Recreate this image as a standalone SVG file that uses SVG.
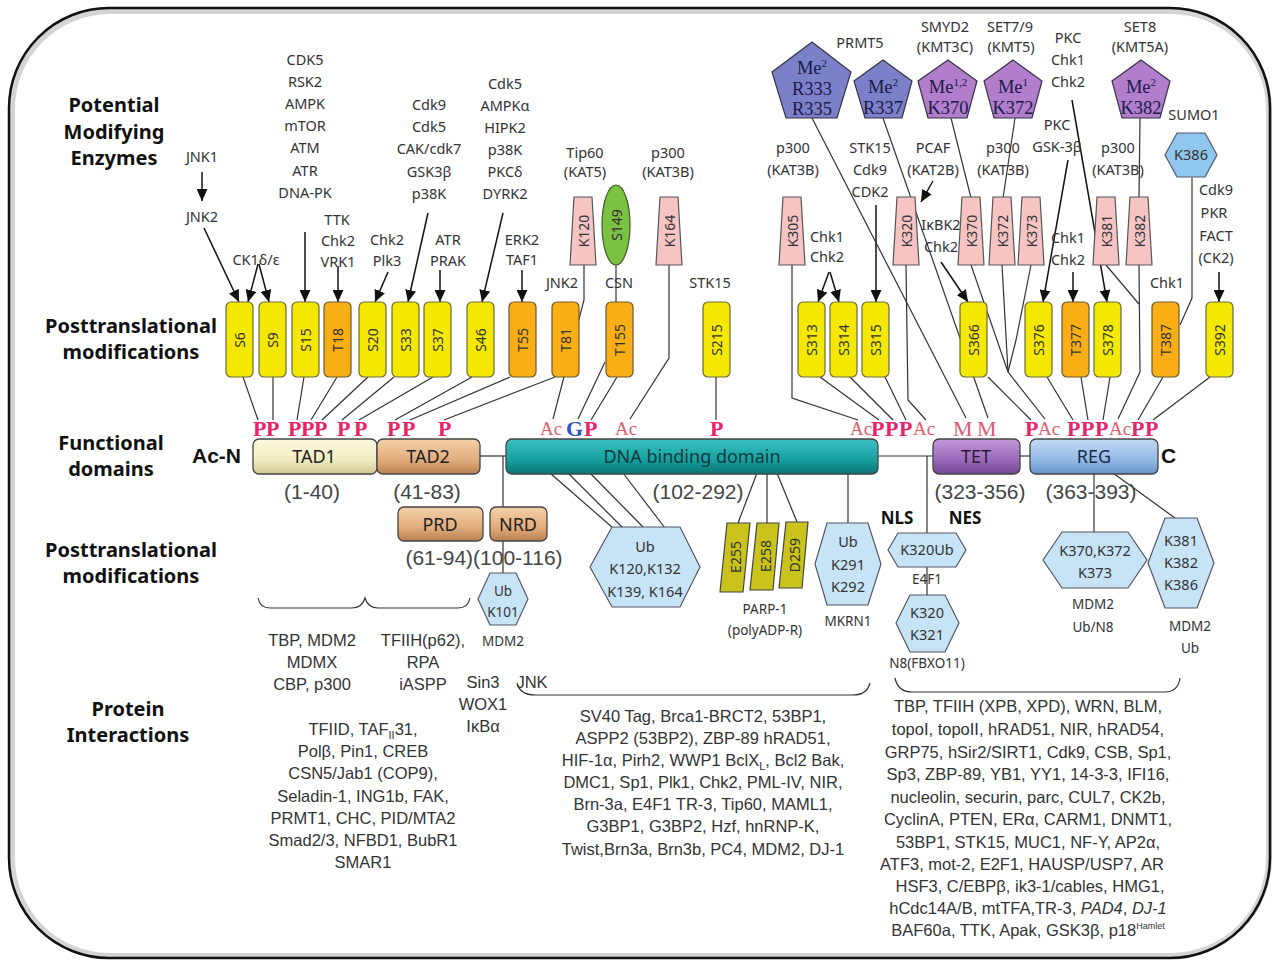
<svg xmlns="http://www.w3.org/2000/svg" width="1279" height="965" viewBox="0 0 1279 965">
<defs>
<marker id="ah" markerUnits="userSpaceOnUse" markerWidth="12" markerHeight="11" viewBox="0 0 12 11" refX="12" refY="5.5" orient="auto"><path d="M0,0 L12,5.5 L0,11 z" fill="#111"/></marker>
<linearGradient id="gTAD1" x1="0" y1="0" x2="0" y2="1"><stop offset="0" stop-color="#fbf9e0"/><stop offset="0.6" stop-color="#f1edc0"/><stop offset="1" stop-color="#cfc896"/></linearGradient>
<linearGradient id="gTAD2" x1="0" y1="0" x2="0" y2="1"><stop offset="0" stop-color="#f3cfa8"/><stop offset="0.6" stop-color="#e2ad7c"/><stop offset="1" stop-color="#b88050"/></linearGradient>
<linearGradient id="gDNA" x1="0" y1="0" x2="0" y2="1"><stop offset="0" stop-color="#3cc0c0"/><stop offset="0.6" stop-color="#16a0a0"/><stop offset="1" stop-color="#0a7474"/></linearGradient>
<linearGradient id="gTET" x1="0" y1="0" x2="0" y2="1"><stop offset="0" stop-color="#c49ad8"/><stop offset="0.6" stop-color="#9a68ba"/><stop offset="1" stop-color="#734790"/></linearGradient>
<linearGradient id="gREG" x1="0" y1="0" x2="0" y2="1"><stop offset="0" stop-color="#c2daf4"/><stop offset="0.6" stop-color="#93b9e4"/><stop offset="1" stop-color="#6690c4"/></linearGradient>
</defs>
<style>
.head{font-family:"Noto Sans",sans-serif;font-weight:bold;font-size:20px;fill:#111;text-anchor:middle}
.enz{font-family:"Noto Sans",sans-serif;font-size:14.5px;fill:#333;text-anchor:middle}
.sm{font-family:"Noto Sans",sans-serif;font-size:13.5px;fill:#333;text-anchor:middle}
.by{fill:#f4e800;stroke:#6a6a40;stroke-width:1.2}
.bo{fill:#f8ae14;stroke:#6a5a30;stroke-width:1.2}
.bt{font-family:"Noto Sans",sans-serif;font-size:14px;fill:#333;text-anchor:middle;dominant-baseline:central}
.trap{fill:#f7c4c4;stroke:#555;stroke-width:1.2}
.ln{stroke:#333;stroke-width:1.2;fill:none}
.arr{stroke:#111;stroke-width:1.5;fill:none;marker-end:url(#ah)}
.hex{fill:#c7e4f6;stroke:#556;stroke-width:1.2}
.hext{font-family:"Noto Sans",sans-serif;font-size:14.5px;fill:#333;text-anchor:middle}
.pb{fill:#7c80c8;stroke:#334;stroke-width:1.2}
.pp{fill:#b27ecc;stroke:#334;stroke-width:1.2}
.pt{font-family:"Liberation Serif",serif;font-size:18.5px;fill:#1a1a4a;text-anchor:middle}
.P{font-family:"Liberation Serif",serif;font-weight:bold;font-size:22px;fill:#e8236a}
.Ac{font-family:"Liberation Serif",serif;font-size:19px;fill:#e0606e}
.M{font-family:"Liberation Serif",serif;font-size:22px;fill:#e05a70}
.G{font-family:"Liberation Serif",serif;font-weight:bold;font-size:22px;fill:#3050c8}
.dom{stroke:#444;stroke-width:1.3}
.domt{font-family:"Noto Sans",sans-serif;font-size:18px;fill:#222;text-anchor:middle}
.rng{font-family:"Liberation Sans",sans-serif;font-size:21px;fill:#444;text-anchor:middle}
.pi{font-family:"Liberation Sans",sans-serif;font-size:16.5px;fill:#333;text-anchor:middle}
.par{fill:#c9c31c;stroke:#444;stroke-width:1.2}
.bold{font-family:"Liberation Sans",sans-serif;font-weight:bold;font-size:21px;fill:#111}
.nl{font-family:"Noto Sans",sans-serif;font-weight:bold;font-size:17px;fill:#111;text-anchor:middle}
</style>
<rect x="0" y="0" width="1279" height="965" fill="#ffffff"/>
<rect x="12" y="11" width="1257" height="945" rx="98" fill="none" stroke="#d4d4d4" stroke-width="6"/>
<rect x="9" y="8" width="1261" height="950" rx="100" fill="none" stroke="#111" stroke-width="2.5"/>

<g id="row-labels">
<text class="head" x="114" y="112">Potential</text>
<text class="head" x="114" y="139">Modifying</text>
<text class="head" x="114" y="165">Enzymes</text>
<text class="head" x="131" y="333">Posttranslational</text>
<text class="head" x="131" y="359">modifications</text>
<text class="head" x="111" y="450">Functional</text>
<text class="head" x="111" y="476">domains</text>
<text class="head" x="131" y="557">Posttranslational</text>
<text class="head" x="131" y="583">modifications</text>
<text class="head" x="128" y="716">Protein</text>
<text class="head" x="128" y="742">Interactions</text>
</g>

<g id="connectors">
<line class="arr" x1="202" y1="172" x2="202" y2="201"/>
<line class="arr" x1="204" y1="228" x2="239" y2="302"/>
<line class="arr" x1="258" y1="264" x2="248" y2="302"/>
<line class="arr" x1="259" y1="264" x2="269" y2="302"/>
<line class="arr" x1="305" y1="232" x2="305" y2="302"/>
<line class="arr" x1="338" y1="266" x2="338" y2="302"/>
<line class="arr" x1="388" y1="272" x2="375" y2="302"/>
<line class="arr" x1="428" y1="213" x2="408" y2="302"/>
<line class="arr" x1="440" y1="270" x2="440" y2="302"/>
<line class="arr" x1="503" y1="213" x2="482" y2="302"/>
<line class="arr" x1="522" y1="270" x2="522" y2="302"/>
<line class="arr" x1="829" y1="272" x2="818" y2="302"/>
<line class="arr" x1="830" y1="272" x2="839" y2="302"/>
<line class="arr" x1="876" y1="205" x2="876" y2="302"/>
<line class="arr" x1="933" y1="181" x2="921" y2="202"/>
<line class="arr" x1="941" y1="262" x2="968" y2="302"/>
<line class="arr" x1="1068" y1="160" x2="1043" y2="302"/>
<line class="arr" x1="1073" y1="272" x2="1073" y2="302"/>
<line class="arr" x1="1072" y1="100" x2="1107" y2="302"/>
<line class="arr" x1="1219" y1="272" x2="1219" y2="302"/>
<line class="ln" x1="812" y1="118" x2="966" y2="418"/>
<line class="ln" x1="883" y1="118" x2="988" y2="418"/>
<line class="ln" x1="951" y1="118" x2="971" y2="198"/>
<line class="ln" x1="1015" y1="118" x2="1003" y2="198"/>
<line class="ln" x1="1140" y1="118" x2="1139" y2="198"/>
<polyline class="ln" points="1192,178 1192,298 1180,325"/>
<polyline class="ln" points="584,265 584,300 553,419"/>
<line class="ln" x1="616" y1="265" x2="616" y2="303"/>
<line class="ln" x1="605" y1="362" x2="578" y2="419"/>
<polyline class="ln" points="669,265 669,358 630,419"/>
<polyline class="ln" points="792,265 792,398 858,420"/>
<polyline class="ln" points="906,265 908,400 926,420"/>
<polyline class="ln" points="971,265 1008,372 1045,419"/>
<line class="ln" x1="1002" y1="265" x2="1008" y2="372"/>
<polyline class="ln" points="1031,265 1016,340 1008,372"/>
<polyline class="ln" points="1106,265 1139,304"/>
<polyline class="ln" points="1139,265 1140,372 1118,419"/>
<line class="ln" x1="243" y1="377" x2="258" y2="420"/>
<line class="ln" x1="273" y1="377" x2="273" y2="420"/>
<line class="ln" x1="304" y1="377" x2="297" y2="420"/>
<line class="ln" x1="337" y1="377" x2="311" y2="420"/>
<line class="ln" x1="368" y1="377" x2="322" y2="420"/>
<line class="ln" x1="394" y1="377" x2="342" y2="420"/>
<line class="ln" x1="433" y1="377" x2="359" y2="420"/>
<line class="ln" x1="472" y1="377" x2="395" y2="420"/>
<line class="ln" x1="510" y1="377" x2="410" y2="420"/>
<line class="ln" x1="555" y1="377" x2="444" y2="420"/>
<line class="ln" x1="617" y1="377" x2="591" y2="420"/>
<line class="ln" x1="716" y1="377" x2="716" y2="420"/>
<line class="ln" x1="820" y1="377" x2="879" y2="420"/>
<line class="ln" x1="850" y1="377" x2="893" y2="420"/>
<line class="ln" x1="885" y1="377" x2="906" y2="420"/>
<line class="ln" x1="988" y1="377" x2="1031" y2="420"/>
<line class="ln" x1="1047" y1="377" x2="1073" y2="420"/>
<line class="ln" x1="1081" y1="377" x2="1088" y2="420"/>
<line class="ln" x1="1110" y1="377" x2="1103" y2="420"/>
<line class="ln" x1="1163" y1="377" x2="1138" y2="420"/>
<line class="ln" x1="1210" y1="377" x2="1153" y2="420"/>
<line class="ln" x1="479" y1="456" x2="507" y2="456" stroke-width="1.5"/>
<line class="ln" x1="878" y1="456" x2="933" y2="456" stroke-width="1.5"/>
<line class="ln" x1="1019" y1="456" x2="1030" y2="456" stroke-width="1.5"/>
<line class="ln" x1="503" y1="456" x2="503" y2="575"/>
<line class="ln" x1="927" y1="456" x2="927" y2="533"/>
<line class="ln" x1="927" y1="567" x2="927" y2="595"/>
<line class="ln" x1="848" y1="473" x2="848" y2="523"/>
<line class="ln" x1="1094" y1="473" x2="1094" y2="532"/>
<line class="ln" x1="1113" y1="473" x2="1175" y2="518"/>
<line class="ln" x1="550" y1="473" x2="613" y2="528"/>
<line class="ln" x1="568" y1="473" x2="623" y2="528"/>
<line class="ln" x1="590" y1="473" x2="644" y2="528"/>
<line class="ln" x1="623" y1="473" x2="665" y2="528"/>
<line class="ln" x1="757" y1="473" x2="738" y2="523"/>
<line class="ln" x1="767" y1="473" x2="767" y2="523"/>
<line class="ln" x1="777" y1="473" x2="797" y2="522"/>
<path class="ln" d="M258,598 Q260,608 270,608 L352,608 Q362,608 365,598 Q368,608 378,608 L458,608 Q468,608 470,598" stroke="#555" stroke-width="1.4"/>
<path class="ln" d="M517,683 Q520,695 535,695 L853,695 Q867,695 870,683" stroke="#555" stroke-width="1.4"/>
<path class="ln" d="M895,678 Q898,692 912,692 L1165,692 Q1178,692 1180,678" stroke="#555" stroke-width="1.4"/>
</g>

<g id="enzymes">
<text class="enz" x="202" y="162">JNK1</text>
<text class="enz" x="202" y="222">JNK2</text>
<text class="enz" x="256" y="265">CK1δ/ε</text>
<text class="enz" x="305" y="65">CDK5</text>
<text class="enz" x="305" y="87">RSK2</text>
<text class="enz" x="305" y="109">AMPK</text>
<text class="enz" x="305" y="131">mTOR</text>
<text class="enz" x="305" y="153">ATM</text>
<text class="enz" x="305" y="176">ATR</text>
<text class="enz" x="305" y="198">DNA-PK</text>
<text class="enz" x="337" y="225">TTK</text>
<text class="enz" x="338" y="246">Chk2</text>
<text class="enz" x="338" y="267">VRK1</text>
<text class="enz" x="387" y="245">Chk2</text>
<text class="enz" x="387" y="266">Plk3</text>
<text class="enz" x="429" y="110">Cdk9</text>
<text class="enz" x="429" y="132">Cdk5</text>
<text class="enz" x="429" y="154">CAK/cdk7</text>
<text class="enz" x="429" y="177">GSK3β</text>
<text class="enz" x="429" y="199">p38K</text>
<text class="enz" x="448" y="245">ATR</text>
<text class="enz" x="448" y="266">PRAK</text>
<text class="enz" x="505" y="89">Cdk5</text>
<text class="enz" x="505" y="111">AMPKα</text>
<text class="enz" x="505" y="133">HIPK2</text>
<text class="enz" x="505" y="155">p38K</text>
<text class="enz" x="505" y="177">PKCδ</text>
<text class="enz" x="505" y="199">DYRK2</text>
<text class="enz" x="522" y="245">ERK2</text>
<text class="enz" x="522" y="265">TAF1</text>
<text class="enz" x="562" y="288">JNK2</text>
<text class="enz" x="619" y="288">CSN</text>
<text class="enz" x="710" y="288">STK15</text>
<text class="enz" x="585" y="158">Tip60</text>
<text class="enz" x="585" y="177">(KAT5)</text>
<text class="enz" x="668" y="158">p300</text>
<text class="enz" x="668" y="177">(KAT3B)</text>
<text class="enz" x="860" y="48">PRMT5</text>
<text class="enz" x="945" y="32">SMYD2</text>
<text class="enz" x="945" y="52">(KMT3C)</text>
<text class="enz" x="1010" y="32">SET7/9</text>
<text class="enz" x="1011" y="52">(KMT5)</text>
<text class="enz" x="1068" y="43">PKC</text>
<text class="enz" x="1068" y="65">Chk1</text>
<text class="enz" x="1068" y="87">Chk2</text>
<text class="enz" x="1140" y="32">SET8</text>
<text class="enz" x="1140" y="52">(KMT5A)</text>
<text class="enz" x="1194" y="120">SUMO1</text>
<text class="enz" x="793" y="153">p300</text>
<text class="enz" x="793" y="175">(KAT3B)</text>
<text class="enz" x="870" y="153">STK15</text>
<text class="enz" x="870" y="175">Cdk9</text>
<text class="enz" x="870" y="197">CDK2</text>
<text class="enz" x="933" y="153">PCAF</text>
<text class="enz" x="933" y="175">(KAT2B)</text>
<text class="enz" x="1003" y="153">p300</text>
<text class="enz" x="1003" y="175">(KAT3B)</text>
<text class="enz" x="1057" y="130">PKC</text>
<text class="enz" x="1057" y="152">GSK-3β</text>
<text class="enz" x="1118" y="153">p300</text>
<text class="enz" x="1118" y="175">(KAT3B)</text>
<text class="enz" x="827" y="242">Chk1</text>
<text class="enz" x="827" y="262">Chk2</text>
<text class="enz" x="941" y="230">IκBK2</text>
<text class="enz" x="941" y="252">Chk2</text>
<text class="enz" x="1068" y="243">Chk1</text>
<text class="enz" x="1068" y="265">Chk2</text>
<text class="enz" x="1167" y="288">Chk1</text>
<text class="enz" x="1216" y="195">Cdk9</text>
<text class="enz" x="1214" y="218">PKR</text>
<text class="enz" x="1216" y="241">FACT</text>
<text class="enz" x="1216" y="263">(CK2)</text>
</g>

<g id="pentagons">
<g id="R333-R335"><polygon class="pb" points="812,42 851,72 837,118 786,118 772,72"/><text class="pt" x="812" y="74">Me<tspan font-size="11" dy="-7">2</tspan></text><text class="pt" x="812" y="95">R333</text><text class="pt" x="812" y="115">R335</text></g>
<g id="R337"><polygon class="pb" points="883,60 912,81 902,118 865,118 854,81"/><text class="pt" x="883" y="93">Me<tspan font-size="11" dy="-7">2</tspan></text><text class="pt" x="883" y="114">R337</text></g>
<g id="K370-me"><polygon class="pp" points="948,60 977,81 967,118 928,118 918,81"/><text class="pt" x="948" y="93">Me<tspan font-size="11" dy="-7">1,2</tspan></text><text class="pt" x="948" y="114">K370</text></g>
<g id="K372-me"><polygon class="pp" points="1013,60 1042,81 1032,118 994,118 984,81"/><text class="pt" x="1013" y="93">Me<tspan font-size="11" dy="-7">1</tspan></text><text class="pt" x="1013" y="114">K372</text></g>
<g id="K382-me"><polygon class="pp" points="1141,60 1170,81 1160,118 1122,118 1112,81"/><text class="pt" x="1141" y="93">Me<tspan font-size="11" dy="-7">2</tspan></text><text class="pt" x="1141" y="114">K382</text></g>
<g id="K386-sumo"><polygon class="hex" style="fill:#8fc7ee" points="1177,133 1205,133 1217,155 1205,177 1177,177 1165,155"/><text class="hext" x="1191" y="160">K386</text></g>
</g>

<g id="acetyl-sites">
<g id="K120"><polygon class="trap" points="574,197 592,197 596,265 570,265"/><text class="bt" transform="translate(583,231) rotate(-90)">K120</text></g>
<g id="S149"><ellipse cx="616" cy="225" rx="14" ry="40" fill="#7cc242" stroke="#3a5a2a" stroke-width="1.2"/><text class="bt" transform="translate(616,225) rotate(-90)">S149</text></g>
<g id="K164"><polygon class="trap" points="660,197 678,197 682,265 656,265"/><text class="bt" transform="translate(669,231) rotate(-90)">K164</text></g>
<g id="K305"><polygon class="trap" points="783,197 801,197 805,265 779,265"/><text class="bt" transform="translate(792,231) rotate(-90)">K305</text></g>
<g id="K320"><polygon class="trap" points="897,197 915,197 919,265 893,265"/><text class="bt" transform="translate(906,231) rotate(-90)">K320</text></g>
<g id="K370"><polygon class="trap" points="962,197 980,197 984,265 958,265"/><text class="bt" transform="translate(971,231) rotate(-90)">K370</text></g>
<g id="K372"><polygon class="trap" points="993,197 1011,197 1015,265 989,265"/><text class="bt" transform="translate(1002,231) rotate(-90)">K372</text></g>
<g id="K373"><polygon class="trap" points="1022,197 1040,197 1044,265 1018,265"/><text class="bt" transform="translate(1031,231) rotate(-90)">K373</text></g>
<g id="K381"><polygon class="trap" points="1097,197 1115,197 1119,265 1093,265"/><text class="bt" transform="translate(1106,231) rotate(-90)">K381</text></g>
<g id="K382"><polygon class="trap" points="1130,197 1148,197 1152,265 1126,265"/><text class="bt" transform="translate(1139,231) rotate(-90)">K382</text></g>
</g>

<g id="phospho-sites">
<g id="S6"><rect class="by" x="226" y="302" width="27" height="75" rx="5"/><text class="bt" transform="translate(239.5,340) rotate(-90)">S6</text></g>
<g id="S9"><rect class="by" x="259" y="302" width="27" height="75" rx="5"/><text class="bt" transform="translate(272.5,340) rotate(-90)">S9</text></g>
<g id="S15"><rect class="by" x="292" y="302" width="27" height="75" rx="5"/><text class="bt" transform="translate(305.5,340) rotate(-90)">S15</text></g>
<g id="T18"><rect class="bo" x="324" y="302" width="27" height="75" rx="5"/><text class="bt" transform="translate(337.5,340) rotate(-90)">T18</text></g>
<g id="S20"><rect class="by" x="359" y="302" width="27" height="75" rx="5"/><text class="bt" transform="translate(372.5,340) rotate(-90)">S20</text></g>
<g id="S33"><rect class="by" x="392" y="302" width="27" height="75" rx="5"/><text class="bt" transform="translate(405.5,340) rotate(-90)">S33</text></g>
<g id="S37"><rect class="by" x="424" y="302" width="27" height="75" rx="5"/><text class="bt" transform="translate(437.5,340) rotate(-90)">S37</text></g>
<g id="S46"><rect class="by" x="467" y="302" width="27" height="75" rx="5"/><text class="bt" transform="translate(480.5,340) rotate(-90)">S46</text></g>
<g id="T55"><rect class="bo" x="509" y="302" width="27" height="75" rx="5"/><text class="bt" transform="translate(522.5,340) rotate(-90)">T55</text></g>
<g id="T81"><rect class="bo" x="552" y="302" width="27" height="75" rx="5"/><text class="bt" transform="translate(565.5,340) rotate(-90)">T81</text></g>
<g id="T155"><rect class="bo" x="606" y="302" width="27" height="75" rx="5"/><text class="bt" transform="translate(619.5,340) rotate(-90)">T155</text></g>
<g id="S215"><rect class="by" x="703" y="302" width="27" height="75" rx="5"/><text class="bt" transform="translate(716.5,340) rotate(-90)">S215</text></g>
<g id="S313"><rect class="by" x="798" y="302" width="27" height="75" rx="5"/><text class="bt" transform="translate(811.5,340) rotate(-90)">S313</text></g>
<g id="S314"><rect class="by" x="830" y="302" width="27" height="75" rx="5"/><text class="bt" transform="translate(843.5,340) rotate(-90)">S314</text></g>
<g id="S315"><rect class="by" x="862" y="302" width="27" height="75" rx="5"/><text class="bt" transform="translate(875.5,340) rotate(-90)">S315</text></g>
<g id="S366"><rect class="by" x="960" y="302" width="27" height="75" rx="5"/><text class="bt" transform="translate(973.5,340) rotate(-90)">S366</text></g>
<g id="S376"><rect class="by" x="1025" y="302" width="27" height="75" rx="5"/><text class="bt" transform="translate(1038.5,340) rotate(-90)">S376</text></g>
<g id="T377"><rect class="bo" x="1062" y="302" width="27" height="75" rx="5"/><text class="bt" transform="translate(1075.5,340) rotate(-90)">T377</text></g>
<g id="S378"><rect class="by" x="1094" y="302" width="27" height="75" rx="5"/><text class="bt" transform="translate(1107.5,340) rotate(-90)">S378</text></g>
<g id="T387"><rect class="bo" x="1152" y="302" width="27" height="75" rx="5"/><text class="bt" transform="translate(1165.5,340) rotate(-90)">T387</text></g>
<g id="S392"><rect class="by" x="1206" y="302" width="27" height="75" rx="5"/><text class="bt" transform="translate(1219.5,340) rotate(-90)">S392</text></g>
</g>

<g id="mod-letters">
<text class="P" x="253" y="436">P</text><text class="P" x="266" y="436">P</text>
<text class="P" x="288" y="436">P</text><text class="P" x="301" y="436">P</text><text class="P" x="314" y="436">P</text>
<text class="P" x="337" y="436">P</text><text class="P" x="354" y="436">P</text>
<text class="P" x="387" y="436">P</text><text class="P" x="402" y="436">P</text>
<text class="P" x="438" y="436">P</text>
<text class="Ac" x="540" y="435">Ac</text><text class="G" x="566" y="436">G</text><text class="P" x="584" y="436">P</text>
<text class="Ac" x="615" y="435">Ac</text>
<text class="P" x="710" y="436">P</text>
<text class="Ac" x="850" y="435">Ac</text><text class="P" x="871" y="436">P</text><text class="P" x="885" y="436">P</text><text class="P" x="899" y="436">P</text><text class="Ac" x="913" y="435">Ac</text>
<text class="M" x="953" y="436">M</text><text class="M" x="977" y="436">M</text>
<text class="P" x="1025" y="436">P</text><text class="Ac" x="1038" y="435">Ac</text>
<text class="P" x="1067" y="436">P</text><text class="P" x="1081" y="436">P</text><text class="P" x="1095" y="436">P</text><text class="Ac" x="1109" y="435">Ac</text>
<text class="P" x="1131" y="436">P</text><text class="P" x="1145" y="436">P</text>
</g>

<g id="domains">
<text class="bold" x="192" y="463">Ac-N</text>
<g id="TAD1"><rect class="dom" x="253" y="439" width="124" height="35" rx="6" fill="url(#gTAD1)"/><text class="domt" x="314" y="463">TAD1</text></g>
<g id="TAD2"><rect class="dom" x="377" y="439" width="103" height="35" rx="6" fill="url(#gTAD2)"/><text class="domt" x="428" y="463">TAD2</text></g>
<g id="DBD"><rect class="dom" x="506" y="439" width="372" height="35" rx="6" fill="url(#gDNA)"/><text class="domt" x="692" y="463" style="fill:#0d3a3a">DNA binding domain</text></g>
<g id="TET"><rect class="dom" x="933" y="439" width="87" height="35" rx="6" fill="url(#gTET)"/><text class="domt" x="976" y="463" style="fill:#2a1a3a">TET</text></g>
<g id="REG"><rect class="dom" x="1030" y="439" width="128" height="35" rx="6" fill="url(#gREG)"/><text class="domt" x="1094" y="463" style="fill:#1a2a4a">REG</text></g>
<text class="bold" x="1161" y="463">C</text>
<text class="rng" x="312" y="499">(1-40)</text>
<text class="rng" x="427" y="499">(41-83)</text>
<text class="rng" x="698" y="499">(102-292)</text>
<text class="rng" x="980" y="499">(323-356)</text>
<text class="rng" x="1091" y="499">(363-393)</text>
<g id="PRD"><rect class="dom" x="398" y="507" width="85" height="34" rx="6" fill="url(#gTAD2)"/><text class="domt" x="440" y="531">PRD</text></g>
<g id="NRD"><rect class="dom" x="490" y="507" width="57" height="34" rx="6" fill="url(#gTAD2)"/><text class="domt" x="518" y="531">NRD</text></g>
<text class="rng" x="484" y="565">(61-94)(100-116)</text>
<text class="nl" x="897" y="524">NLS</text>
<text class="nl" x="965" y="524">NES</text>
</g>

<g id="lower-mods">
<g id="UbK101"><polygon class="hex" points="490,573 516,573 528,599 516,625 490,625 478,599"/><text class="sm" x="503" y="596">Ub</text><text class="sm" x="503" y="617">K101</text></g>
<text class="sm" x="503" y="646">MDM2</text>
<g id="UbK120"><polygon class="hex" points="612,527 680,527 700,567 680,607 612,607 590,567"/><text class="hext" x="645" y="552">Ub</text><text class="hext" x="645" y="574">K120,K132</text><text class="hext" x="645" y="597">K139, K164</text></g>
<g id="E255"><polygon class="par" points="727,523 750,523 743,592 720,592"/><text class="bt" transform="translate(735,557) rotate(-90)">E255</text></g>
<g id="E258"><polygon class="par" points="757,523 779,523 773,590 750,590"/><text class="bt" transform="translate(765,556) rotate(-90)">E258</text></g>
<g id="D259"><polygon class="par" points="786,522 808,522 802,588 779,588"/><text class="bt" transform="translate(794,555) rotate(-90)">D259</text></g>
<text class="sm" x="765" y="614">PARP-1</text>
<text class="sm" x="765" y="635">(polyADP-R)</text>
<g id="UbK291"><polygon class="hex" points="827,523 868,523 881,564 868,605 827,605 815,564"/><text class="hext" x="848" y="547">Ub</text><text class="hext" x="848" y="570">K291</text><text class="hext" x="848" y="592">K292</text></g>
<text class="sm" x="848" y="626">MKRN1</text>
<g id="K320Ub"><polygon class="hex" points="898,533 956,533 966,550 956,567 898,567 888,550"/><text class="hext" x="927" y="555">K320Ub</text></g>
<text class="sm" x="927" y="584">E4F1</text>
<g id="K320K321"><polygon class="hex" points="910,595 945,595 959,623 945,652 910,652 896,623"/><text class="hext" x="927" y="618">K320</text><text class="hext" x="927" y="640">K321</text></g>
<text class="sm" x="927" y="668">N8(FBXO11)</text>
<g id="K370K373"><polygon class="hex" points="1062,532 1128,532 1147,560 1128,588 1062,588 1043,560"/><text class="hext" x="1095" y="556">K370,K372</text><text class="hext" x="1095" y="578">K373</text></g>
<text class="sm" x="1093" y="609">MDM2</text>
<text class="sm" x="1093" y="632">Ub/N8</text>
<g id="K381K386"><polygon class="hex" points="1165,518 1197,518 1214,563 1197,608 1165,608 1148,563"/><text class="hext" x="1181" y="546">K381</text><text class="hext" x="1181" y="568">K382</text><text class="hext" x="1181" y="590">K386</text></g>
<text class="sm" x="1190" y="631">MDM2</text>
<text class="sm" x="1190" y="653">Ub</text>
</g>

<g id="interactions">
<text class="pi" x="312" y="646">TBP, MDM2</text>
<text class="pi" x="312" y="668">MDMX</text>
<text class="pi" x="312" y="690">CBP, p300</text>
<text class="pi" x="423" y="646">TFIIH(p62),</text>
<text class="pi" x="423" y="668">RPA</text>
<text class="pi" x="423" y="690">iASPP</text>
<text class="pi" x="483" y="688">Sin3</text>
<text class="pi" x="483" y="710">WOX1</text>
<text class="pi" x="483" y="732" font-size="14">IκBα</text>
<text class="pi" x="532" y="688">JNK</text>
<text class="pi" x="363" y="735">TFIID, TAF<tspan font-size="11" dy="4">II</tspan><tspan dy="-4">31,</tspan></text>
<text class="pi" x="363" y="757">Polβ, Pin1, CREB</text>
<text class="pi" x="363" y="779">CSN5/Jab1 (COP9),</text>
<text class="pi" x="363" y="802">Seladin-1, ING1b, FAK,</text>
<text class="pi" x="363" y="824">PRMT1, CHC, PID/MTA2</text>
<text class="pi" x="363" y="846">Smad2/3, NFBD1, BubR1</text>
<text class="pi" x="363" y="868">SMAR1</text>
<text class="pi" x="703" y="722">SV40 Tag, Brca1-BRCT2, 53BP1,</text>
<text class="pi" x="703" y="744">ASPP2 (53BP2), ZBP-89 hRAD51,</text>
<text class="pi" x="703" y="766">HIF-1α, Pirh2, WWP1 BclX<tspan font-size="11" dy="4">L</tspan><tspan dy="-4">, Bcl2 Bak,</tspan></text>
<text class="pi" x="703" y="788">DMC1, Sp1, Plk1, Chk2, PML-IV, NIR,</text>
<text class="pi" x="703" y="810">Brn-3a, E4F1 TR-3, Tip60, MAML1,</text>
<text class="pi" x="703" y="832">G3BP1, G3BP2, Hzf, hnRNP-K,</text>
<text class="pi" x="703" y="855">Twist,Brn3a, Brn3b, PC4, MDM2, DJ-1</text>
<text class="pi" x="1028" y="712">TBP, TFIIH  (XPB, XPD), WRN, BLM,</text>
<text class="pi" x="1028" y="735">topoI, topoII, hRAD51, NIR, hRAD54,</text>
<text class="pi" x="1028" y="758">GRP75, hSir2/SIRT1, Cdk9, CSB, Sp1,</text>
<text class="pi" x="1028" y="780">Sp3, ZBP-89, YB1, YY1, 14-3-3, IFI16,</text>
<text class="pi" x="1028" y="803">nucleolin, securin, parc, CUL7, CK2b,</text>
<text class="pi" x="1028" y="825">CyclinA, PTEN, ERα, CARM1, DNMT1,</text>
<text class="pi" x="1028" y="848">53BP1, STK15, MUC1, NF-Y, AP2α,</text>
<text class="pi" x="1022" y="870">ATF3, mot-2, E2F1, HAUSP/USP7, AR</text>
<text class="pi" x="1030" y="892">HSF3, C/EBPβ, ik3-1/cables, HMG1,</text>
<text class="pi" x="1028" y="914">hCdc14A/B, mtTFA,TR-3, <tspan font-style="italic">PAD4</tspan>, <tspan font-style="italic">DJ-1</tspan></text>
<text class="pi" x="1028" y="936">BAF60a, TTK, Apak, GSK3β, p18<tspan font-size="9" dy="-7">Hamlet</tspan></text>
</g>
</svg>
